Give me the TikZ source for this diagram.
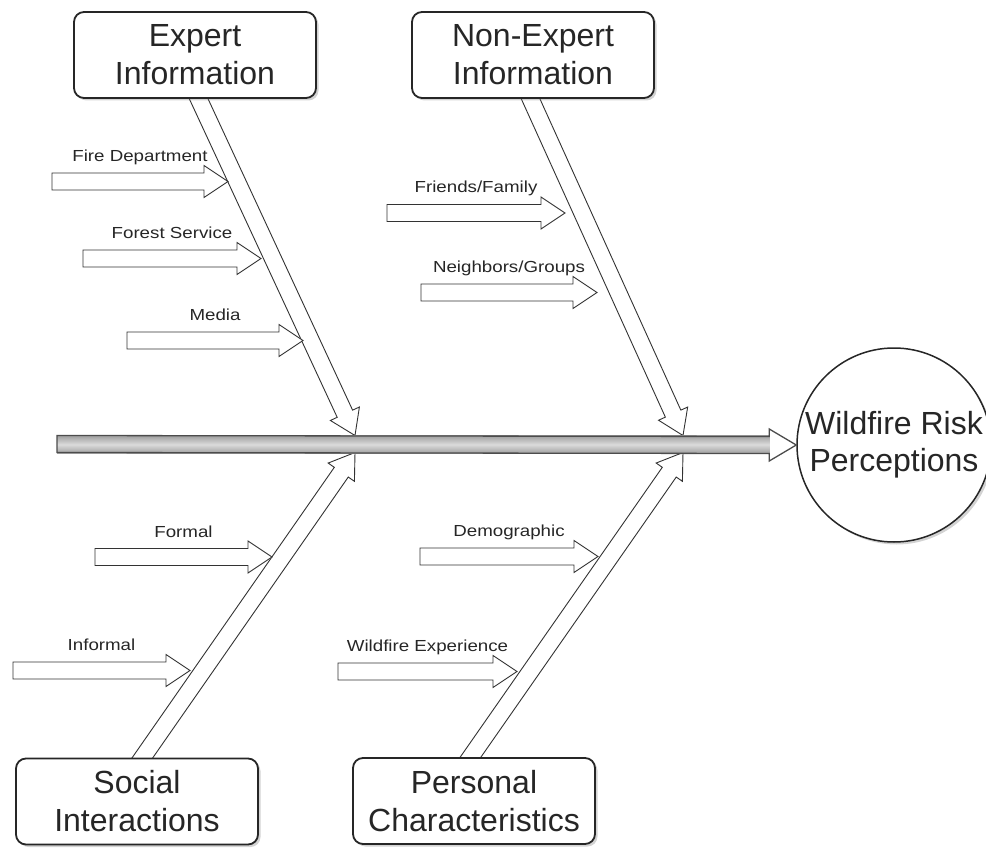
\documentclass[tikz,border=0pt]{standalone}
\usepackage{fontspec}
\setmainfont{Liberation Sans}
\newfontfamily\labelfont{Liberation Sans}[FakeStretch=1.17]
\usetikzlibrary{calc,shadows}
\pgfdeclarelayer{bg}
\pgfsetlayers{bg,main}

% hollow block arrow from #2 to #3 (shaft 17pt, head 32pt wide, 24pt long)
\newcommand{\hollowarrow}[3][]{%
  \path ($(#3)!24pt!(#2)$) coordinate (hb);
  \draw[hollow,#1] ($(#2)!8.5pt!90:(#3)$) -- ($(hb)!8.5pt!90:(#3)$)
    -- ($(hb)!16pt!90:(#3)$) -- (#3) -- ($(hb)!16pt!-90:(#3)$)
    -- ($(hb)!8.5pt!-90:(#3)$) -- ($(#2)!8.5pt!-90:(#3)$) -- cycle;
}

\tikzset{
  catbox/.style={draw=black!85, line width=1.8pt, rounded corners=10pt,
    fill=white, minimum width=242pt, minimum height=86pt, align=center,
    inner sep=0pt, font=\fontsize{32}{38}\selectfont, text=black!85,
    drop shadow={shadow xshift=2.5pt, shadow yshift=-2.5pt, opacity=0.35}},
  effect/.style={circle, draw=black!85, line width=1.5pt, fill=white,
    minimum size=194pt, inner sep=0pt, align=center,
    font=\fontsize{32}{37}\selectfont, text=black!85,
    drop shadow={shadow xshift=2.5pt, shadow yshift=-2.5pt, opacity=0.35}},
  hollow/.style={draw=black!80, line width=0.9pt, fill=white, line join=miter},
  lbl/.style={font=\labelfont\fontsize{16}{18}\selectfont, text=black!85,
    inner sep=0pt, anchor=base},
  spineline/.style={draw=black!70, line width=1.3pt, line join=miter},
}

\begin{document}
\begin{tikzpicture}[x=1pt,y=-1pt]
\useasboundingbox (0,0) rectangle (986,848);

% category boxes and effect
\node[catbox] (expert) at (195,55) {Expert\\Information};
\node[catbox] (nonexpert) at (533,55) {Non-Expert\\Information};
\node[catbox] (social) at (137,801.5) {Social\\Interactions};
\node[catbox] (personal) at (474,801) {Personal\\Characteristics};
\node[effect] (wrp) at (894,445) {Wildfire Risk\\Perceptions};

% spine
\coordinate (spL) at (57,444);
\path ($(wrp.west)+(-27,0)$) coordinate (spH);

% tips of the main branches on the spine
\coordinate (expT) at (355,435.5);
\coordinate (nexT) at (683,435.5);
\coordinate (socT) at (355,452.5);
\coordinate (perT) at (683,452.5);

\begin{pgfonlayer}{bg}
  % main branches
  \coordinate (expS) at ($(expert.south)+(0,-8)$);
  \coordinate (nexS) at ($(nonexpert.south)+(-6,-8)$);
  \coordinate (socS) at ($(social.north)+(0,8)$);
  \coordinate (perS) at ($(personal.north)+(-9,8)$);
  \hollowarrow{expS}{expT}
  \hollowarrow{nexS}{nexT}
  \hollowarrow{socS}{socT}
  \hollowarrow{perS}{perT}
\end{pgfonlayer}

% spine arrow
\fill[white] ($(spH)+(0,-16)$) -- (wrp.west) -- ($(spH)+(0,16)$) -- cycle;
\fill[top color=black!38, bottom color=black!38, middle color=black!14]
  ($(spL)+(0,-8.5)$) rectangle ($(spH)+(0,8.5)$);
\draw[spineline] ($(spH)+(0,-8.5)$) -- ($(spH)+(0,-16)$) -- (wrp.west)
  -- ($(spH)+(0,16)$) -- ($(spH)+(0,8.5)$) -- ($(spL)+(0,8.5)$)
  -- ($(spL)+(0,-8.5)$) -- cycle;

% sub-causes: start, tip on the branch edge
\coordinate (fdS) at (52,181.5);   \coordinate (fdT) at (228,181.5);
\coordinate (fsS) at (83,258.5);   \coordinate (fsT) at (261,258.5);
\coordinate (mdS) at (127,340.5);  \coordinate (mdT) at (303,340.5);
\coordinate (ffS) at (387,213);    \coordinate (ffT) at (565,213);
\coordinate (ngS) at (421,292.5);  \coordinate (ngT) at (597,292.5);
\coordinate (foS) at (95,557);     \coordinate (foT) at (272,557);
\coordinate (inS) at (13,670.5);   \coordinate (inT) at (190,670.5);
\coordinate (dmS) at (420,556.5);  \coordinate (dmT) at (598,556.5);
\coordinate (weS) at (338,671.5);  \coordinate (weT) at (517,671.5);

\hollowarrow{fdS}{fdT}
\hollowarrow{fsS}{fsT}
\hollowarrow{mdS}{mdT}
\hollowarrow{ffS}{ffT}
\hollowarrow{ngS}{ngT}
\hollowarrow{foS}{foT}
\hollowarrow{inS}{inT}
\hollowarrow{dmS}{dmT}
\hollowarrow{weS}{weT}

\node[lbl] (fdL) at ($(fdS)!0.5!(fdT)+(0,-20)$) {Fire Department};
\node[lbl] (fsL) at ($(fsS)!0.5!(fsT)+(0,-20)$) {Forest Service};
\node[lbl] (mdL) at ($(mdS)!0.5!(mdT)+(0,-20)$) {Media};
\node[lbl] (ffL) at ($(ffS)!0.5!(ffT)+(0,-20)$) {Friends/Family};
\node[lbl] (ngL) at ($(ngS)!0.5!(ngT)+(0,-20)$) {Neighbors/Groups};
\node[lbl] (foL) at ($(foS)!0.5!(foT)+(0,-20)$) {Formal};
\node[lbl] (inL) at ($(inS)!0.5!(inT)+(0,-20)$) {Informal};
\node[lbl] (dmL) at ($(dmS)!0.5!(dmT)+(0,-20)$) {Demographic};
\node[lbl] (weL) at ($(weS)!0.5!(weT)+(0,-20)$) {Wildfire Experience};
\end{tikzpicture}
\end{document}
